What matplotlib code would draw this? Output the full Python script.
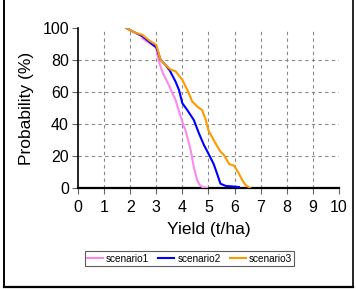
import matplotlib
matplotlib.use("Agg")
import matplotlib.pyplot as plt
from matplotlib.lines import Line2D

# yield (t/ha) vs probability of exceedance (%)
s1_x = [2.46, 2.6, 2.85, 3.0, 3.1, 3.25, 3.42, 3.6, 3.74, 3.87, 4.0, 4.12, 4.22, 4.32, 4.44, 4.57, 4.66, 4.76, 4.95]
s1_y = [93.7, 92.0, 89.5, 87.5, 79.0, 72.0, 66.5, 60.0, 55.0, 48.0, 41.4, 36.0, 30.0, 23.6, 13.0, 4.8, 2.0, 0.6, 0.0]

s2_x = [1.85, 2.2, 2.46, 2.86, 3.0, 3.17, 3.35, 3.52, 3.74, 3.87, 4.0, 4.19, 4.44, 4.64, 4.83, 5.0, 5.2, 5.33, 5.46, 5.66, 5.9, 6.17]
s2_y = [100.0, 97.0, 95.0, 89.7, 88.0, 80.0, 77.0, 73.4, 66.5, 61.3, 53.0, 48.7, 42.5, 34.0, 26.8, 21.5, 15.0, 9.0, 2.7, 1.3, 1.0, 0.6]

s3_x = [1.85, 2.2, 2.46, 2.75, 3.0, 3.17, 3.35, 3.55, 3.74, 4.0, 4.2, 4.38, 4.6, 4.76, 4.9, 5.0, 5.1, 5.27, 5.45, 5.6, 5.79, 5.98, 6.15, 6.3, 6.43, 6.6]
s3_y = [100.0, 97.0, 95.8, 92.0, 89.5, 80.0, 77.0, 74.0, 73.0, 67.6, 61.0, 54.0, 50.5, 48.7, 42.5, 36.0, 33.0, 28.0, 23.0, 20.5, 15.0, 14.0, 9.5, 4.8, 1.7, 0.0]

x_ticks = list(range(0, 11))
y_ticks = [0, 20, 40, 60, 80, 100]

plt.rcParams['font.family'] = ['Liberation Sans', 'DejaVu Sans']

fig = plt.figure(figsize=(3.56, 2.89), dpi=100)
ax = fig.add_axes([0.219, 0.3495, 0.733, 0.5535])

# dashed grid, only inside the frame
ax.vlines(x_ticks[1:-1], 0, 100, colors='#888888', linestyles=(0, (3, 3)), linewidth=0.8, zorder=1)
ax.hlines(y_ticks[1:-1], 0, 10, colors='#888888', linestyles=(0, (3, 3)), linewidth=0.8, zorder=1)

ax.plot(s1_x, s1_y, color='#ff88ee', lw=1.5, label='scenario1', zorder=3)
ax.plot(s2_x, s2_y, color='#0000ff', lw=1.5, label='scenario2', zorder=3)
ax.plot(s3_x, s3_y, color='#ff9900', lw=1.5, label='scenario3', zorder=4)

ax.set_xlim(0, 10)
ax.set_ylim(0, 100)
ax.set_xticks(x_ticks)
ax.set_yticks(y_ticks)
ax.spines['top'].set_visible(False)
ax.spines['right'].set_visible(False)
ax.spines['left'].set_linewidth(1.2)
ax.spines['bottom'].set_linewidth(1.6)
ax.tick_params(labelsize=11.5, length=4, width=0.8, color='#666666')
ax.tick_params(axis='x', pad=5)
ax.tick_params(axis='y', pad=2.5)
ax.set_xlabel('Yield (t/ha)', fontsize=12.5, labelpad=5)
ax.set_ylabel('Probability (%)', fontsize=12.5, labelpad=6)

leg = fig.legend(loc='center', bbox_to_anchor=(189.5 / 356, 1 - 258.5 / 289), ncol=3,
                 fontsize=7.2, frameon=True, fancybox=False, handlelength=1.6,
                 handletextpad=0.3, columnspacing=0.9, borderpad=0.25)
leg.get_frame().set_edgecolor('#333333')
leg.get_frame().set_linewidth(0.8)

# outer border (left, bottom, right)
fig.add_artist(Line2D([3.5 / 356, 3.5 / 356], [0.01, 1.0], color='black', lw=1.4))
fig.add_artist(Line2D([3.5 / 356, 352.5 / 356], [2.5 / 289, 2.5 / 289], color='black', lw=1.6))
fig.add_artist(Line2D([352.5 / 356, 352.5 / 356], [2.5 / 289, 1.0], color='black', lw=1.2))

fig.savefig('out.png', dpi=100)
